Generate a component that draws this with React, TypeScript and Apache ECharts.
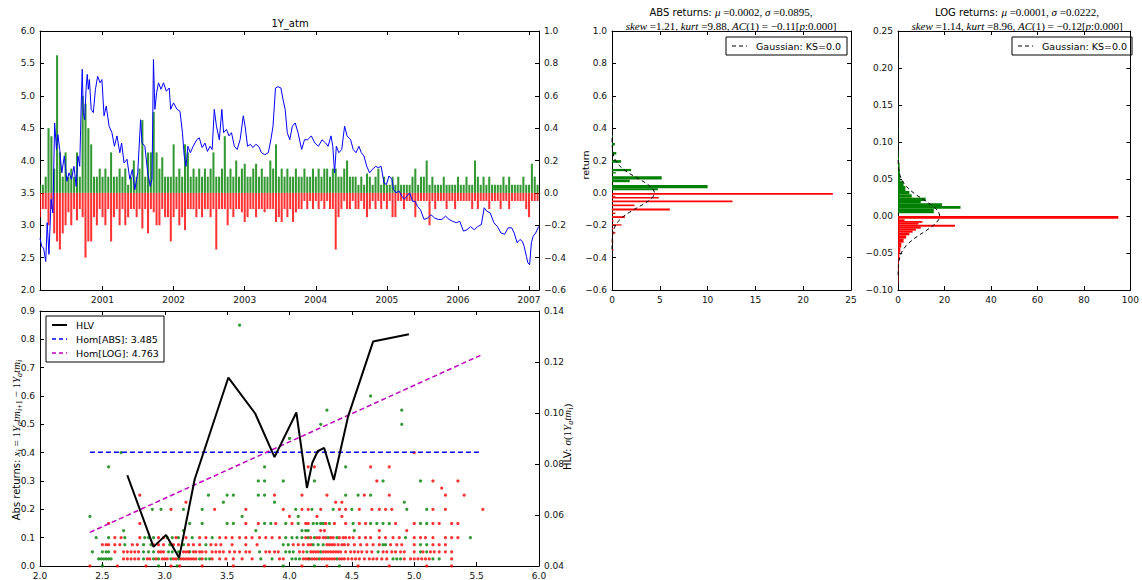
import React, { useEffect, useRef } from 'react';
import * as echarts from 'echarts';

// ---------- 1Y_atm level (decimal years / level) ----------
const levelYears = [
  2000.120, 2000.145, 2000.170, 2000.201, 2000.221, 2000.246, 2000.276, 2000.301, 2000.326, 2000.352,
  2000.372, 2000.397, 2000.427, 2000.462, 2000.498, 2000.528, 2000.563, 2000.598, 2000.629, 2000.654,
  2000.679, 2000.699, 2000.714, 2000.729, 2000.749, 2000.770, 2000.785, 2000.800, 2000.815, 2000.840,
  2000.870, 2000.900, 2000.931, 2000.966, 2000.991, 2001.021, 2001.052, 2001.092, 2001.132, 2001.167,
  2001.203, 2001.243, 2001.268, 2001.303, 2001.344, 2001.384, 2001.419, 2001.454, 2001.495, 2001.535,
  2001.555, 2001.595, 2001.636, 2001.671, 2001.696, 2001.716, 2001.736, 2001.761, 2001.787, 2001.822,
  2001.857, 2001.897, 2001.938, 2001.958, 2001.998, 2002.048, 2002.089, 2002.124, 2002.149, 2002.174,
  2002.200, 2002.235, 2002.275, 2002.325, 2002.361, 2002.401, 2002.441, 2002.476, 2002.512, 2002.542,
  2002.572, 2002.602, 2002.643, 2002.678, 2002.703, 2002.743, 2002.779, 2002.814, 2002.854, 2002.894,
  2002.935, 2002.980, 2003.005, 2003.040, 2003.080, 2003.116, 2003.156, 2003.196, 2003.236, 2003.282,
  2003.332, 2003.368, 2003.398, 2003.433, 2003.468, 2003.509, 2003.539, 2003.569, 2003.599, 2003.634,
  2003.670, 2003.710, 2003.750, 2003.801, 2003.841, 2003.886, 2003.937, 2003.987, 2004.037, 2004.088,
  2004.138, 2004.173, 2004.214, 2004.239, 2004.264, 2004.289, 2004.324, 2004.365, 2004.405, 2004.440,
  2004.490, 2004.526, 2004.566, 2004.606, 2004.641, 2004.677, 2004.717, 2004.757, 2004.793, 2004.843,
  2004.878, 2004.919, 2004.959, 2004.994, 2005.029, 2005.070, 2005.095, 2005.130, 2005.170, 2005.211,
  2005.246, 2005.281, 2005.321, 2005.362, 2005.397, 2005.432, 2005.472, 2005.523, 2005.573, 2005.623,
  2005.674, 2005.724, 2005.774, 2005.825, 2005.875, 2005.926, 2005.976, 2006.026, 2006.077, 2006.127,
  2006.177, 2006.228, 2006.278, 2006.329, 2006.369, 2006.404, 2006.454, 2006.505, 2006.555, 2006.605,
  2006.656, 2006.706, 2006.756, 2006.791, 2006.832, 2006.872, 2006.907, 2006.932, 2006.963, 2006.983,
  2007.008, 2007.033, 2007.058, 2007.093, 2007.135,
];
const levelValues = [
  2.80, 2.67, 2.65, 2.44, 3.04, 2.55, 3.40, 3.19, 4.58, 4.17,
  4.40, 4.17, 3.81, 4.07, 3.68, 3.81, 3.71, 3.91, 3.60, 4.07,
  3.91, 4.84, 5.41, 4.74, 4.63, 5.15, 5.33, 5.10, 5.25, 4.79,
  4.74, 5.10, 5.30, 5.20, 5.25, 4.69, 4.84, 4.53, 4.43, 4.22,
  4.38, 4.12, 4.27, 3.96, 4.02, 3.71, 3.86, 3.55, 3.81, 4.63,
  4.27, 4.22, 3.81, 3.60, 3.71, 5.56, 4.79, 5.05, 5.20, 5.10,
  5.20, 5.07, 5.12, 4.79, 4.89, 4.79, 4.76, 4.43, 4.07, 3.91,
  4.22, 4.12, 4.22, 4.32, 4.35, 4.20, 4.27, 4.14, 4.22, 4.17,
  4.79, 4.53, 4.32, 4.79, 4.43, 4.48, 4.38, 4.43, 4.22, 4.17,
  4.32, 4.69, 4.53, 4.22, 4.25, 4.20, 4.25, 4.22, 4.12, 4.09,
  4.12, 4.32, 4.53, 5.12, 5.14, 5.12, 4.94, 4.79, 4.43, 4.32,
  4.53, 4.58, 4.43, 4.17, 4.32, 4.32, 4.38, 4.27, 4.22, 4.32,
  4.27, 4.22, 4.38, 4.22, 3.81, 4.22, 4.12, 4.17, 4.53, 4.38,
  4.32, 4.17, 4.12, 4.22, 4.12, 4.07, 3.91, 3.81, 3.86, 3.91,
  3.89, 3.91, 3.65, 3.63, 3.76, 3.71, 3.55, 3.50, 3.53, 3.45,
  3.40, 3.45, 3.50, 3.37, 3.37, 3.29, 3.24, 3.09, 3.11, 3.16,
  3.11, 3.09, 3.09, 3.14, 3.09, 3.06, 3.04, 3.06, 2.91, 2.93,
  2.98, 2.93, 2.98, 3.01, 3.27, 3.22, 3.19, 3.04, 2.98, 2.88,
  2.86, 2.96, 2.96, 2.88, 2.73, 2.78, 2.75, 2.67, 2.52, 2.42,
  2.39, 2.73, 2.83, 2.88, 2.98,
];

// ---------- returns, one up/down pair every retStep years ----------
const retStart = 2000.12;
const retStep = 0.04;
const retUp = [
  0.05, 0.05, 0.1, 0.4, 0.35, 0.15, 0.85, 0.25, 0.1, 0.25,
  0.1, 0.15, 0.1, 0.25, 0.1, 0.6, 0.55, 0.4, 0.3, 0.1,
  0.1, 0.15, 0.1, 0.15, 0.1, 0.25, 0.1, 0.1, 0.15, 0.1,
  0.15, 0.05, 0.1, 0.2, 0.1, 0.15, 0.45, 0.1, 0.25, 0.25,
  0.5, 0.25, 0.15, 0.22, 0.1, 0.1, 0.1, 0.3, 0.1, 0.15,
  0.1, 0.3, 0.25, 0.1, 0.15, 0.1, 0.15, 0.1, 0.15, 0.1,
  0.15, 0.25, 0.1, 0.1, 0.15, 0.35, 0.1, 0.15, 0.1, 0.2,
  0.1, 0.15, 0.18, 0.1, 0.1, 0.15, 0.18, 0.1, 0.15, 0.1,
  0.1, 0.2, 0.15, 0.3, 0.1, 0.15, 0.1, 0.15, 0.1, 0.1,
  0.15, 0.1, 0.1, 0.15, 0.1, 0.1, 0.15, 0.1, 0.15, 0.1,
  0.15, 0.15, 0.1, 0.15, 0.15, 0.1, 0.1, 0.15, 0.2, 0.1,
  0.1, 0.1, 0.05, 0.1, 0.05, 0.12, 0.1, 0.05, 0.1, 0.15,
  0.05, 0.1, 0.05, 0.05, 0.1, 0.05, 0.1, 0.05, 0.05, 0.05,
  0.05, 0.1, 0.15, 0.05, 0.1, 0.1, 0.2, 0.05, 0.1, 0.05,
  0.05, 0.05, 0.1, 0.05, 0.05, 0.05, 0.05, 0.1, 0.05, 0.05,
  0.1, 0.05, 0.05, 0.2, 0.1, 0.05, 0.1, 0.05, 0.1, 0.05,
  0.05, 0.05, 0.05, 0.1, 0.05, 0.1, 0.05, 0.05, 0.05, 0.05,
  0.1, 0.05, 0.05, 0.18, 0.1, 0.05,
];
const retDown = [
  -0.15, -0.1, -0.1, -0.2, -0.1, -0.25, -0.3, -0.35, -0.25, -0.2,
  -0.12, -0.2, -0.1, -0.17, -0.1, -0.15, -0.4, -0.3, -0.3, -0.15,
  -0.2, -0.1, -0.15, -0.2, -0.1, -0.3, -0.15, -0.1, -0.2, -0.1,
  -0.2, -0.15, -0.1, -0.1, -0.15, -0.1, -0.22, -0.1, -0.25, -0.1,
  -0.12, -0.2, -0.2, -0.1, -0.15, -0.15, -0.3, -0.15, -0.1, -0.2,
  -0.15, -0.23, -0.1, -0.1, -0.1, -0.15, -0.1, -0.15, -0.1, -0.1,
  -0.15, -0.1, -0.35, -0.1, -0.1, -0.1, -0.2, -0.1, -0.15, -0.1,
  -0.1, -0.12, -0.18, -0.15, -0.1, -0.1, -0.15, -0.1, -0.1, -0.12,
  -0.1, -0.1, -0.1, -0.18, -0.15, -0.18, -0.1, -0.15, -0.1, -0.18,
  -0.12, -0.1, -0.1, -0.05, -0.1, -0.05, -0.1, -0.05, -0.1, -0.05,
  -0.1, -0.05, -0.1, -0.1, -0.35, -0.15, -0.1, -0.05, -0.1, -0.1,
  -0.05, -0.1, -0.1, -0.05, -0.1, -0.15, -0.1, -0.05, -0.1, -0.05,
  -0.1, -0.05, -0.1, -0.05, -0.15, -0.15, -0.05, -0.05, -0.1, -0.05,
  -0.05, -0.05, -0.15, -0.05, -0.05, -0.05, -0.05, -0.2, -0.05, -0.1,
  -0.05, -0.05, -0.05, -0.1, -0.05, -0.05, -0.1, -0.05, -0.05, -0.05,
  -0.05, -0.05, -0.1, -0.05, -0.1, -0.05, -0.05, -0.05, -0.1, -0.05,
  -0.05, -0.05, -0.1, -0.05, -0.05, -0.1, -0.05, -0.05, -0.05, -0.05,
  -0.05, -0.1, -0.15, -0.05, -0.05, -0.05,
];

// ---------- ABS return histogram: bin low, bin high, density ----------
const absBinLow = [0.545, 0.5, 0.345, 0.293, 0.237, 0.186, 0.134, 0.12, 0.082, 0.066, 0.029, 0.016,
  -0.012, -0.024, -0.035, -0.058, -0.082, -0.109, -0.13, -0.155, -0.179, -0.202, -0.225, -0.252, -0.305, -0.355];
const absBinHigh = [0.555, 0.51, 0.355, 0.309, 0.252, 0.202, 0.148, 0.128, 0.103, 0.082, 0.049, 0.029,
  0.0, -0.018, -0.026, -0.047, -0.072, -0.097, -0.122, -0.144, -0.169, -0.194, -0.216, -0.243, -0.297, -0.346];
const absDensity = [0.05, 0.05, 0.1, 0.3, 0.45, 0.95, 2.0, 0.4, 5.2, 1.85, 10.0, 4.8,
  23.1, 0.35, 4.9, 12.6, 2.35, 6.05, 0.35, 1.35, 0.15, 1.0, 0.12, 0.35, 0.15, 0.15];

// Gaussian fit for ABS returns (return, density)
const absGaussReturn = [-0.35, -0.325, -0.3, -0.275, -0.25, -0.225, -0.2, -0.175, -0.15, -0.125, -0.1, -0.075, -0.05, -0.025, 0,
  0.025, 0.05, 0.075, 0.1, 0.125, 0.15, 0.175, 0.2, 0.225, 0.25, 0.275, 0.3, 0.325, 0.35];
const absGaussDensity = [0.002, 0.006, 0.016, 0.04, 0.09, 0.19, 0.37, 0.66, 1.09, 1.68, 2.39, 3.14, 3.81, 4.29, 4.46,
  4.29, 3.81, 3.14, 2.39, 1.68, 1.09, 0.66, 0.37, 0.19, 0.09, 0.04, 0.016, 0.006, 0.002];

// ---------- LOG return histogram ----------
const logBinLow = [0.0036, 0.0099, 0.0135, 0.0171, 0.0203, 0.0248, 0.0293, 0.0338, 0.0405, 0.0473, 0.054, 0.063, 0.072, 0.079, 0.095, 0.11, 0.14, 0.205,
  -0.0036, -0.0068, -0.0092, -0.0117, -0.0144, -0.0171, -0.0198, -0.0225, -0.0261, -0.0306, -0.036, -0.0428, -0.0495, -0.0586, -0.072, -0.092];
const logBinHigh = [0.0099, 0.0135, 0.0171, 0.0203, 0.0248, 0.0293, 0.0338, 0.0405, 0.0473, 0.054, 0.063, 0.072, 0.079, 0.09, 0.105, 0.12, 0.15, 0.212,
  0.0, -0.0045, -0.0068, -0.0092, -0.0117, -0.0144, -0.0171, -0.0198, -0.0225, -0.0261, -0.0306, -0.036, -0.0428, -0.0495, -0.0586, -0.072];
const logDensity = [15.4, 26.9, 18.9, 9.8, 11.9, 5.9, 4.9, 3.2, 2.4, 1.0, 0.8, 0.7, 0.4, 0.15, 0.1, 0.1, 0.1, 0.1,
  94.8, 2.8, 10.5, 8.8, 24.5, 9.8, 7.7, 6.3, 4.9, 3.5, 2.4, 1.4, 1.0, 0.6, 0.3, 0.15];

const logGaussReturn = [-0.08, -0.07, -0.065, -0.06, -0.055, -0.05, -0.045, -0.04, -0.035, -0.03, -0.025, -0.02, -0.015, -0.01, -0.005, 0,
  0.005, 0.01, 0.015, 0.02, 0.025, 0.03, 0.035, 0.04, 0.045, 0.05, 0.055, 0.06, 0.065, 0.07, 0.08];
const logGaussDensity = [0.03, 0.12, 0.25, 0.47, 0.84, 1.42, 2.3, 3.55, 5.18, 7.21, 9.53, 11.99, 14.3, 16.25, 17.52, 17.97,
  17.52, 16.25, 14.3, 11.99, 9.53, 7.21, 5.18, 3.55, 2.3, 1.42, 0.84, 0.47, 0.25, 0.12, 0.03];

// ---------- abs returns against level: one row of level values per abs return ----------
const absLevels = [0, 0.025, 0.05, 0.075, 0.1, 0.125, 0.15, 0.175, 0.2, 0.225, 0.25, 0.275, 0.3, 0.35, 0.4, 0.45, 0.5, 0.55, 0.6, 0.85];
const upLevelsAt = [
  [2.5, 2.95, 3.1, 3.95, 4.2, 4.4],
  [2.47, 2.49, 2.51, 2.53, 2.55, 2.57, 2.83, 2.91, 2.95, 3.05, 3.11, 3.28, 3.33, 3.36, 3.77, 3.86, 4.02, 4.05, 4.08, 4.16, 4.24, 4.38, 4.83, 4.86, 4.89, 5.15, 5.2],
  [2.42, 2.5, 2.53, 2.55, 2.83, 2.87, 2.91, 3.03, 3.06, 3.11, 3.2, 3.76, 3.97, 4.0, 4.03, 4.14, 4.25, 4.71, 5.05, 5.1],
  [2.68, 2.83, 2.89, 3.04, 3.15, 3.33, 3.95, 3.99, 4.19, 4.23, 4.27, 4.75, 4.77, 5.05, 5.1],
  [2.45, 2.55, 2.68, 2.84, 2.87, 2.91, 3.02, 3.06, 3.11, 3.22, 3.38, 3.97, 4.02, 4.06, 4.1, 4.15, 4.2, 4.31, 4.38, 4.93, 5.45],
  [2.67, 3.15, 3.73, 4.1, 4.13, 4.15, 4.52],
  [3.2, 3.3, 3.5, 3.55, 3.8, 3.85, 3.97, 4.07, 4.19, 4.22, 4.25, 4.27, 4.32, 4.51, 4.65, 4.7, 4.75, 4.8, 5.05, 5.1],
  [2.4, 3.62, 4.07],
  [2.9, 2.97, 3.15, 3.3, 4.05, 4.18, 4.35, 4.5, 4.94, 5.1],
  [3.47, 3.88, 4.92],
  [3.35, 3.5, 3.55, 3.75, 3.8, 4.45, 4.55, 4.65],
  [],
  [3.75, 3.8, 3.95, 4.2, 4.75, 5.05],
  [2.55, 3.8, 4.45],
  [2.65],
  [4.0],
  [4.25, 4.9],
  [4.3, 4.9],
  [4.65],
  [3.6],
];
const downLevelsAt = [
  [2.4, 2.62, 2.85, 3.05, 3.12, 3.3, 3.55, 3.8, 4.1, 4.3, 4.55, 4.8, 5.1, 5.3],
  [2.67, 2.7, 2.73, 2.76, 2.79, 2.86, 2.88, 2.93, 2.98, 3.0, 3.02, 3.07, 3.09, 3.13, 3.15, 3.17, 3.19, 3.21, 3.23, 3.25, 3.3, 3.38, 3.44, 3.49,
    3.55, 3.62, 3.7, 3.92, 3.95, 4.11, 4.13, 4.15, 4.18, 4.2, 4.22, 4.26, 4.28, 4.3, 4.32, 4.34, 4.36, 4.4, 4.42, 4.44, 4.47, 4.5, 4.53, 4.56,
    4.6, 4.64, 4.67, 4.7, 4.74, 4.78, 4.92, 4.97, 5.0, 5.03, 5.06, 5.09, 5.12, 5.3],
  [2.6, 2.67, 2.7, 2.73, 2.76, 2.79, 2.95, 2.97, 2.99, 3.15, 3.17, 3.19, 3.23, 3.25, 3.28, 3.3, 3.33, 3.38, 3.41, 3.44, 3.47, 3.52, 3.56, 3.6,
    3.65, 3.68, 3.81, 3.84, 3.88, 3.91, 4.08, 4.11, 4.17, 4.19, 4.21, 4.23, 4.27, 4.29, 4.31, 4.33, 4.35, 4.37, 4.39, 4.41, 4.45, 4.49, 4.52,
    4.55, 4.58, 4.62, 4.66, 4.75, 4.78, 4.82, 4.85, 4.89, 4.92, 5.0, 5.07, 5.13, 5.16, 5.2, 5.25, 5.3],
  [2.5, 2.53, 2.55, 2.6, 2.64, 2.74, 2.78, 2.91, 2.95, 2.99, 3.07, 3.11, 3.19, 3.23, 3.28, 3.37, 3.41, 3.45, 3.54, 3.65, 3.74, 4.03, 4.07,
    4.11, 4.15, 4.17, 4.3, 4.32, 4.34, 4.36, 4.39, 4.42, 4.44, 4.47, 4.52, 4.57, 4.62, 4.67, 4.72, 4.81, 4.86, 4.9, 5.0, 5.15, 5.2, 5.25],
  [2.6, 2.65, 2.8, 2.95, 2.99, 3.09, 3.17, 3.28, 3.33, 3.44, 3.49, 3.54, 3.6, 3.65, 3.7, 3.76, 3.81, 3.86, 3.92, 4.13, 4.17, 4.22, 4.24,
    4.27, 4.29, 4.33, 4.35, 4.4, 4.43, 4.45, 4.48, 4.51, 4.56, 4.61, 4.65, 4.72, 4.77, 4.83, 4.88, 5.0, 5.05, 5.09, 5.15, 5.25, 5.3, 5.35],
  [4.25, 4.28, 4.72, 4.94],
  [2.55, 2.8, 3.65, 3.75, 3.89, 4.02, 4.13, 4.15, 4.29, 4.36, 4.45, 4.56, 4.61, 4.85, 5.0, 5.15, 5.2, 5.3, 5.35],
  [4.0, 4.22, 4.42],
  [3.05, 3.4, 3.65, 3.95, 4.1, 4.15, 4.25, 4.4, 4.45, 4.56, 4.66, 4.72, 4.77, 4.82, 5.15, 5.25, 5.55],
  [3.17, 4.37, 4.42],
  [2.8, 3.88, 4.1, 4.3, 4.6, 4.8, 5.25, 5.4],
  [5.22],
  [4.7, 5.15, 5.35],
  [4.15, 4.2, 4.65, 4.8],
  [5.0],
  [],
  [],
  [],
  [],
  [],
];

// ---------- historical level volatility and homoscedastic references ----------
const hlvLevel = [2.7, 2.91, 3.01, 3.115, 3.24, 3.51, 3.725, 3.88, 4.055, 4.14, 4.183, 4.226, 4.278, 4.355, 4.47, 4.67, 4.957];
const hlvValue = [0.0756, 0.0475, 0.0522, 0.0432, 0.074, 0.1139, 0.0998, 0.0827, 0.1002, 0.0706, 0.0805, 0.085, 0.0863, 0.0737, 0.0987, 0.128, 0.1309];
const homLevel = [2.4, 5.53];
const homAbsValue = [0.0846, 0.0846];
const homLogValue = [0.0532, 0.1226];

const yearTicks = [2001, 2002, 2003, 2004, 2005, 2006, 2007];

const GREEN = '#008000';
const RED = '#ff0000';
const BLUE = '#0000ff';
const MAGENTA = '#bf00bf';
const SANS = 'DejaVu Sans';
const SERIF = 'Liberation Serif';

const fmt = (v: number, d: number) => {
  const a = Math.abs(v) < 1e-9 ? 0 : Math.abs(v);
  const s = a.toFixed(d);
  return v < -1e-9 ? '\u2212' + s : s;
};

const tickLabel = { color: '#111', fontSize: 9, fontFamily: SANS, margin: 5 };
const frame = {
  axisLine: { show: true, onZero: false, lineStyle: { color: '#000', width: 1 } },
  axisTick: { show: true, inside: true, length: 4, lineStyle: { color: '#000', width: 1 } },
  splitLine: { show: false },
};

function valueAxis(opts: any) {
  const { labels = true, formatter, customValues, ...rest } = opts;
  return {
    type: 'value',
    ...frame,
    ...rest,
    axisTick: { ...frame.axisTick, ...(customValues ? { customValues } : {}) },
    axisLabel: labels
      ? { ...tickLabel, formatter, ...(customValues ? { customValues } : {}) }
      : { show: false },
  };
}

// one return bar per sampling slot; slightly narrower than the slot
function returnBars(color: string) {
  return (params: any, api: any) => {
    const t = api.value(0);
    const r = api.value(1);
    const a = api.coord([t, 0]);
    const b = api.coord([t, r]);
    const w = api.size([retStep, 0])[0] * 0.72;
    return {
      type: 'rect',
      shape: { x: a[0] - w / 2, y: Math.min(a[1], b[1]), width: w, height: Math.abs(b[1] - a[1]) },
      style: { fill: color, opacity: 0.8 },
    };
  };
}

function histBars(params: any, api: any) {
  const lo = api.value(0);
  const hi = api.value(1);
  const d = api.value(2);
  const p0 = api.coord([0, hi]);
  const p1 = api.coord([d, lo]);
  return {
    type: 'rect',
    shape: { x: p0[0], y: p0[1], width: p1[0] - p0[0], height: Math.max(1, p1[1] - p0[1]) },
    style: { fill: lo + hi > 0 ? GREEN : RED },
  };
}

function legendBox(x: number, y: number, w: number, items: { label: string; color: string; dash: boolean; width: number }[]) {
  const rowH = 14;
  const children: any[] = [
    { type: 'rect', shape: { x, y, width: w, height: items.length * rowH + 4 }, style: { fill: '#fff', stroke: '#000', lineWidth: 1 } },
  ];
  items.forEach((it, i) => {
    const cy = y + 9 + i * rowH;
    children.push({
      type: 'line',
      shape: { x1: x + 6, y1: cy, x2: x + 21, y2: cy },
      style: { stroke: it.color, lineWidth: it.width, lineDash: it.dash ? [4, 3] : null },
    });
    children.push({
      type: 'text',
      x: x + 30,
      y: cy,
      style: { text: it.label, fill: '#000', font: `9.5px "${SANS}"`, verticalAlign: 'middle' },
    });
  });
  return { type: 'group', children };
}

const mathRich = {
  s: { fontFamily: SANS, fontSize: 10, color: '#000', lineHeight: 14, verticalAlign: 'middle' },
  m: { fontFamily: SERIF, fontSize: 11, fontStyle: 'italic', color: '#000', lineHeight: 14, verticalAlign: 'middle' },
  n: { fontFamily: SERIF, fontSize: 11, color: '#000', lineHeight: 14, verticalAlign: 'middle' },
  sub: { fontFamily: SERIF, fontSize: 8, fontStyle: 'italic', color: '#000', lineHeight: 8, verticalAlign: 'bottom' },
  subn: { fontFamily: SERIF, fontSize: 8, color: '#000', lineHeight: 8, verticalAlign: 'bottom' },
};

export default function App() {
  const ref = useRef<HTMLDivElement>(null);

  useEffect(() => {
    document.body.style.margin = '0';
    if (!ref.current) return;
    const chart = echarts.init(ref.current, undefined, { renderer: 'svg' });

    const upBars = retUp.map((v, k) => [retStart + k * retStep, v]);
    const downBars = retDown.map((v, k) => [retStart + k * retStep, v]);
    const level = levelYears.map((t, i) => [t, levelValues[i]]);
    const absHist = absBinLow.map((lo, i) => [lo, absBinHigh[i], absDensity[i]]);
    const logHist = logBinLow.map((lo, i) => [lo, logBinHigh[i], logDensity[i]]);
    const absGauss = absGaussReturn.map((r, i) => [absGaussDensity[i], r]);
    const logGauss = logGaussReturn.map((r, i) => [logGaussDensity[i], r]);
    const upPts: number[][] = [];
    const downPts: number[][] = [];
    absLevels.forEach((a, i) => {
      upLevelsAt[i].forEach((x) => upPts.push([x, a]));
      downLevelsAt[i].forEach((x) => downPts.push([x, a]));
    });
    const hlv = hlvLevel.map((x, i) => [x, hlvValue[i]]);
    const homAbs = homLevel.map((x, i) => [x, homAbsValue[i]]);
    const homLog = homLevel.map((x, i) => [x, homLogValue[i]]);

    chart.setOption({
      animation: false,
      backgroundColor: '#fff',
      grid: [
        { left: 40, top: 31, width: 499, height: 259 },
        { left: 612, top: 31, width: 239, height: 259 },
        { left: 898, top: 31, width: 239, height: 259 },
        { left: 40, top: 311, width: 499, height: 259 },
      ],
      xAxis: [
        valueAxis({ gridIndex: 0, min: 2000.12, max: 2007.14, customValues: yearTicks, formatter: (v: number) => String(Math.round(v)) }),
        valueAxis({ gridIndex: 0, position: 'top', min: 2000.12, max: 2007.14, customValues: yearTicks, labels: false }),
        valueAxis({ gridIndex: 1, min: 0, max: 25, interval: 5, formatter: (v: number) => String(v) }),
        valueAxis({ gridIndex: 1, position: 'top', min: 0, max: 25, interval: 5, labels: false }),
        valueAxis({ gridIndex: 2, min: 0, max: 100, interval: 20, formatter: (v: number) => String(v) }),
        valueAxis({ gridIndex: 2, position: 'top', min: 0, max: 100, interval: 20, labels: false }),
        valueAxis({ gridIndex: 3, min: 2, max: 6, interval: 0.5, formatter: (v: number) => fmt(v, 1) }),
        valueAxis({ gridIndex: 3, position: 'top', min: 2, max: 6, interval: 0.5, labels: false }),
      ],
      yAxis: [
        valueAxis({ gridIndex: 0, min: 2, max: 6, interval: 0.5, formatter: (v: number) => fmt(v, 1) }),
        valueAxis({ gridIndex: 0, position: 'right', min: -0.6, max: 1.0, interval: 0.2, formatter: (v: number) => fmt(v, 1) }),
        valueAxis({ gridIndex: 1, min: -0.6, max: 1.0, interval: 0.2, formatter: (v: number) => fmt(v, 1) }),
        valueAxis({ gridIndex: 1, position: 'right', min: -0.6, max: 1.0, interval: 0.2, labels: false }),
        valueAxis({ gridIndex: 2, min: -0.1, max: 0.25, interval: 0.05, formatter: (v: number) => fmt(v, 2) }),
        valueAxis({ gridIndex: 2, position: 'right', min: -0.1, max: 0.25, interval: 0.05, labels: false }),
        valueAxis({ gridIndex: 3, min: 0, max: 0.9, interval: 0.1, formatter: (v: number) => fmt(v, 1) }),
        valueAxis({ gridIndex: 3, position: 'right', min: 0.04, max: 0.14, interval: 0.02, formatter: (v: number) => fmt(v, 2) }),
      ],
      series: [
        { type: 'custom', name: 'up', xAxisIndex: 0, yAxisIndex: 1, data: upBars, renderItem: returnBars(GREEN), z: 2, clip: true },
        { type: 'custom', name: 'down', xAxisIndex: 0, yAxisIndex: 1, data: downBars, renderItem: returnBars(RED), z: 2, clip: true },
        {
          type: 'line', name: '1Y_atm', xAxisIndex: 0, yAxisIndex: 0, data: level, showSymbol: false, z: 3,
          lineStyle: { color: BLUE, width: 1 }, itemStyle: { color: BLUE },
        },
        { type: 'custom', name: 'ABS', xAxisIndex: 2, yAxisIndex: 2, data: absHist, renderItem: histBars, clip: true },
        {
          type: 'line', name: 'absGauss', xAxisIndex: 2, yAxisIndex: 2, data: absGauss, showSymbol: false, z: 4,
          lineStyle: { color: '#000', width: 1, type: [4, 3] },
        },
        { type: 'custom', name: 'LOG', xAxisIndex: 4, yAxisIndex: 4, data: logHist, renderItem: histBars, clip: true },
        {
          type: 'line', name: 'logGauss', xAxisIndex: 4, yAxisIndex: 4, data: logGauss, showSymbol: false, z: 4,
          lineStyle: { color: '#000', width: 1, type: [4, 3] },
        },
        { type: 'scatter', name: 'up pts', xAxisIndex: 6, yAxisIndex: 6, data: upPts, symbolSize: 3.2, itemStyle: { color: GREEN } },
        { type: 'scatter', name: 'down pts', xAxisIndex: 6, yAxisIndex: 6, data: downPts, symbolSize: 3.2, itemStyle: { color: RED } },
        {
          type: 'line', name: 'Hom[ABS]', xAxisIndex: 6, yAxisIndex: 7, data: homAbs, showSymbol: false,
          lineStyle: { color: BLUE, width: 1.5, type: [5, 3] },
        },
        {
          type: 'line', name: 'Hom[LOG]', xAxisIndex: 6, yAxisIndex: 7, data: homLog, showSymbol: false,
          lineStyle: { color: MAGENTA, width: 1.5, type: [5, 3] },
        },
        {
          type: 'line', name: 'HLV', xAxisIndex: 6, yAxisIndex: 7, data: hlv, showSymbol: false, z: 5,
          lineStyle: { color: '#000', width: 2 },
        },
      ],
      graphic: [
        { type: 'text', x: 290, y: 23, style: { text: '1Y_atm', font: `10px "${SANS}"`, fill: '#000', align: 'center', verticalAlign: 'middle' } },
        {
          type: 'text', x: 731, y: 12,
          style: { text: '{s|ABS returns: }{m|μ}{n| =0.0002, }{m|σ}{n| =0.0895,}', rich: mathRich, align: 'center', verticalAlign: 'middle' },
        },
        {
          type: 'text', x: 731, y: 26,
          style: { text: '{m|skew}{n| =1.21, }{m|kurt}{n| =9.88, }{m|AC}{n|(1) = \u22120.11[}{m|p}{n|:0.000]}', rich: mathRich, align: 'center', verticalAlign: 'middle' },
        },
        {
          type: 'text', x: 1017, y: 12,
          style: { text: '{s|LOG returns: }{m|μ}{n| =0.0001, }{m|σ}{n| =0.0222,}', rich: mathRich, align: 'center', verticalAlign: 'middle' },
        },
        {
          type: 'text', x: 1017, y: 26,
          style: { text: '{m|skew}{n| =1.14, }{m|kurt}{n| =8.96, }{m|AC}{n|(1) = \u22120.12[}{m|p}{n|:0.000]}', rich: mathRich, align: 'center', verticalAlign: 'middle' },
        },
        {
          type: 'text', x: 585, y: 165, rotation: Math.PI / 2,
          style: { text: 'return', font: `9.5px "${SANS}"`, fill: '#000', align: 'center', verticalAlign: 'middle' },
        },
        {
          type: 'text', x: 16, y: 440, rotation: Math.PI / 2,
          style: {
            text: '{s|Abs returns: }{m|x}{sub|i}{n| = 1}{m|Y}{sub|a}{m|tm}{sub|i}{subn|+1}{n| \u2212 1}{m|Y}{sub|a}{m|tm}{sub|i}',
            rich: mathRich, align: 'center', verticalAlign: 'middle',
          },
        },
        {
          type: 'text', x: 567, y: 437, rotation: Math.PI / 2,
          style: {
            text: '{s|HLV: }{m|σ}{n|(1}{m|Y}{sub|a}{m|tm}{sub|i}{n|)}',
            rich: mathRich, align: 'center', verticalAlign: 'middle',
          },
        },
        legendBox(726, 37, 121, [{ label: 'Gaussian: KS=0.0', color: '#000', dash: true, width: 1 }]),
        legendBox(1012, 37, 120, [{ label: 'Gaussian: KS=0.0', color: '#000', dash: true, width: 1 }]),
        legendBox(46, 316, 118, [
          { label: 'HLV', color: '#000', dash: false, width: 2 },
          { label: 'Hom[ABS]: 3.485', color: BLUE, dash: true, width: 1.5 },
          { label: 'Hom[LOG]: 4.763', color: MAGENTA, dash: true, width: 1.5 },
        ]),
      ],
    });

    return () => chart.dispose();
  }, []);

  return <div ref={ref} style={{ width: 1142, height: 580 }} />;
}
